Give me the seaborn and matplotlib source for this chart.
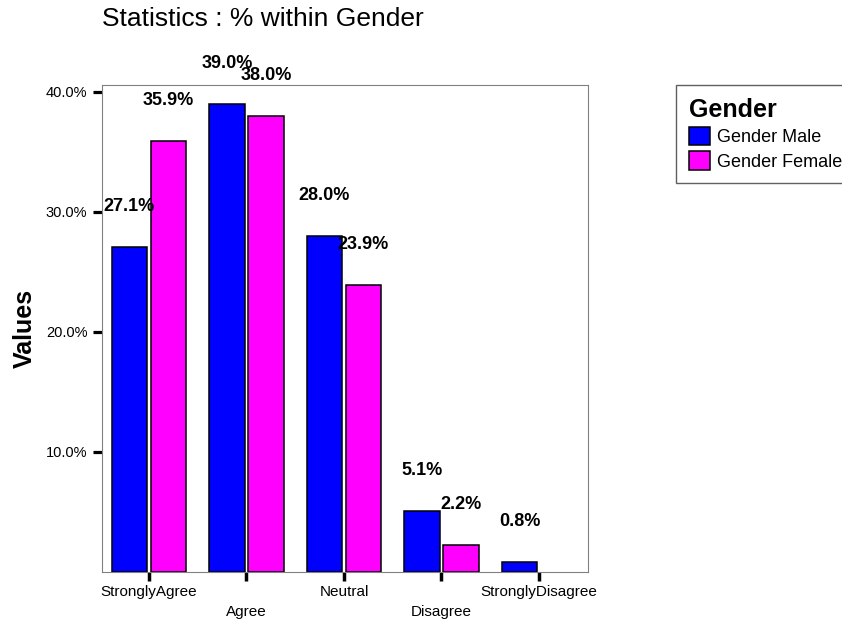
import numpy as np
import pandas as pd
import matplotlib
matplotlib.use("Agg")
import matplotlib.pyplot as plt
import seaborn as sns

# Data (% within Gender)
categories = ["StronglyAgree", "Agree", "Neutral", "Disagree", "StronglyDisagree"]
genders = ["Gender Male", "Gender Female"]
male_pct = [27.1, 39.0, 28.0, 5.1, 0.8]
female_pct = [35.9, 38.0, 23.9, 2.2, np.nan]  # no female bar for Strongly Disagree
yticks = [10, 20, 30, 40]
ytick_labels = ["10.0%", "20.0%", "30.0%", "40.0%"]

df = pd.DataFrame({
    "Response": categories * 2,
    "Gender": [genders[0]] * len(categories) + [genders[1]] * len(categories),
    "Percent": male_pct + female_pct,
}).dropna()

sns.set_style("white")
plt.rcParams["font.family"] = ["Liberation Sans", "DejaVu Sans"]
plt.rcParams["text.color"] = "black"
plt.rcParams["axes.labelcolor"] = "black"
plt.rcParams["xtick.color"] = "black"
plt.rcParams["ytick.color"] = "black"

W, H = 842, 626
fig = plt.figure(figsize=(W / 100, H / 100), dpi=100)
# axes frame in pixels: x 101.7..588.3, y 85..571.7
ax = fig.add_axes([101.7 / W, 1 - 571.7 / H, 486.6 / W, 486.7 / H])

sns.barplot(data=df, x="Response", y="Percent", hue="Gender",
            order=categories, hue_order=genders,
            palette=["#0000FF", "#FF00FF"], saturation=1,
            width=0.8, gap=0.08,
            edgecolor="black", linewidth=1.1, errorbar=None, ax=ax)

# value labels above the bars
for cont in ax.containers:
    ax.bar_label(cont, fmt="%.1f%%", padding=23, fontsize=13,
                 fontweight="bold", color="black")

ax.set_xlim(-0.485, 4.506)
ax.set_ylim(0, 40.56)
ax.set_yticks(yticks)
ax.set_yticklabels(ytick_labels)
ax.set_xticks(range(len(categories)))
ax.set_xticklabels(categories)
ax.set_xlabel("")
ax.set_ylabel("Values", fontsize=18, fontweight="bold", va="center")
ax.yaxis.set_label_coords((24.5 - 101.7) / 486.6, 0.5)

for s in ax.spines.values():
    s.set_visible(True)
    s.set_color("#808080")
    s.set_linewidth(0.8)

ax.tick_params(axis="y", direction="out", length=6.5, width=2.3,
               color="black", labelcolor="black", labelsize=10.5, pad=3.8, left=True)
ax.tick_params(axis="x", direction="out", length=6.7, width=2.5,
               color="black", labelcolor="black", labelsize=11, bottom=True)

# staggered category labels
for i, tk in enumerate(ax.xaxis.get_major_ticks()):
    tk.set_pad(3.0 if i % 2 == 0 else 17.5)

# legend
handles, labels = ax.get_legend_handles_labels()
if ax.get_legend() is not None:
    ax.get_legend().remove()
leg = ax.legend(handles, labels, title="Gender", loc="upper left",
                bbox_to_anchor=(676 / W, 1 - 85 / H),
                bbox_transform=fig.transFigure, borderaxespad=0,
                fontsize=13, title_fontproperties={"weight": "bold", "size": 18},
                alignment="left", fancybox=False, framealpha=1,
                borderpad=0.7, labelspacing=0.29, handlelength=1.2,
                handleheight=1.2, handletextpad=0.37, labelcolor="black")
leg.get_title().set_color("black")
leg.get_frame().set_edgecolor("#606060")
leg.get_frame().set_linewidth(1.0)

fig.text(101.7 / W, 1 - 26 / H, "Statistics : % within Gender",
         ha="left", va="baseline", fontsize=19, color="black")

fig.savefig("out.png", dpi=100)
